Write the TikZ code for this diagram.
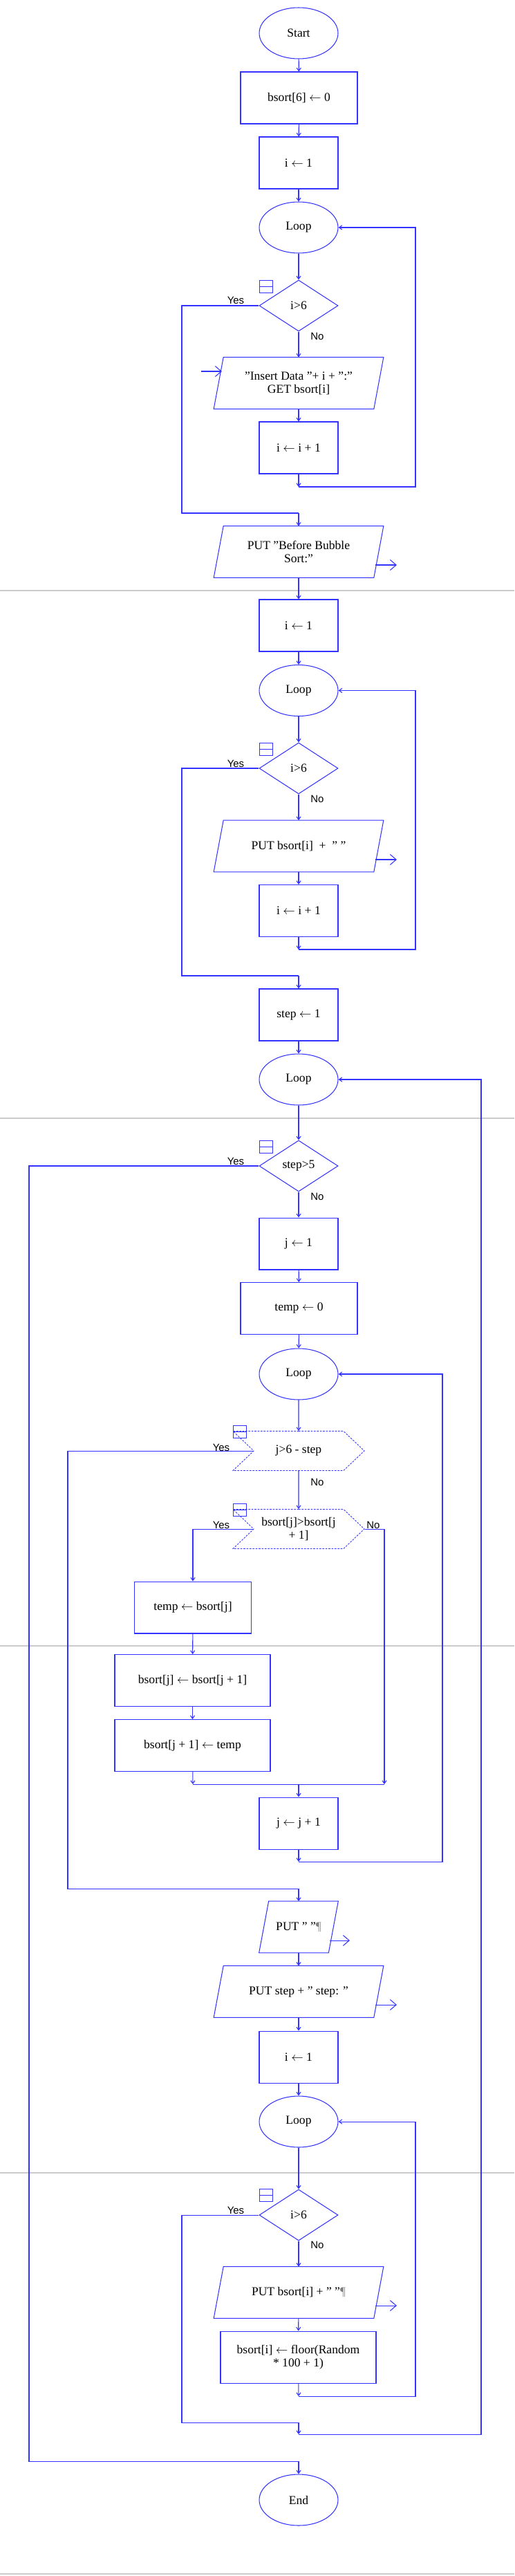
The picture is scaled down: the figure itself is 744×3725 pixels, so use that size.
\documentclass[tikz,border=0pt]{standalone}
\usepackage{fontspec}
\setmainfont{Liberation Serif}
\newfontfamily\lblfont{Liberation Sans}
\usetikzlibrary{shapes.geometric,shapes.symbols,arrows.meta,calc}
\definecolor{fc}{RGB}{51,51,255}
\begin{document}
\begin{tikzpicture}[x=0.02cm,y=-0.02cm,
  every node/.style={font=\fontsize{10}{11}\selectfont,align=center,inner sep=1pt},
  base/.style={draw=fc,line width=0.6pt},
  term/.style={base,ellipse,minimum width=2.28cm,minimum height=1.48cm},
  proc/.style={base,rectangle,minimum width=2.28cm,minimum height=1.5cm},
  wproc/.style={proc,minimum width=3.38cm},
  sproc/.style={proc,minimum width=4.5cm},
  io/.style={rectangle,minimum width=4.9cm,minimum height=1.48cm},
  sio/.style={io,minimum width=2.28cm},
  dec/.style={base,diamond,aspect=1.54,minimum width=2.28cm,minimum height=1.48cm,inner sep=0pt},
  hex/.style={base,signal,signal from=west,signal to=east,signal pointer angle=87,minimum width=3.8cm,minimum height=1.14cm,dash pattern=on 1.5pt off 1pt,line width=0.5pt},
  flow/.style={draw=fc,line width=0.6pt},
  arr/.style={flow,-{Straight Barb[length=2.5pt,width=3.5pt]}},
  ioarr/.style={flow,-{Straight Barb[length=5pt,width=8.5pt]}},
  lbl/.style={font=\lblfont\fontsize{8.5}{9}\selectfont,inner sep=0pt},
  pg/.style={draw=black!20,line width=0.8pt}]
\useasboundingbox (0,0) rectangle (744,3725);
\newcommand\icon[2]{\draw[base,line width=0.5pt] (#1,#2) rectangle ++(19,18) (#1,#2+9) -- ++(19,0);}
\newcommand\para[1]{\draw[base] (#1.south west) -- ($(#1.north west)+(14,0)$) -- (#1.north east) -- ($(#1.south east)-(14,0)$) -- cycle;}

% page break lines
\foreach \yy in {854,1617,2380,3142,3722} \draw[pg] (0,\yy) -- (744,\yy);

% --- section 1: input
\node[term] (start) at (432,48) {Start};
\node[wproc] (b6) at (432.5,141.5) {bsort[6] $\leftarrow$ 0};
\node[proc] (i1) at (432,235.5) {i $\leftarrow$ 1};
\node[term] (loop1) at (432,329) {Loop};
\node[dec] (d1) at (432,442) {i>6};
\node[io] (in1) at (432,554) {"Insert Data "+ i + ":"\\GET bsort[i]};
\node[proc] (inc1) at (432,647.5) {i $\leftarrow$ i + 1};
\node[io] (put1) at (432,798) {PUT "Before Bubble\\Sort:"};
\para{in1} \para{put1}
\icon{375}{405}
\node[lbl] at (341,434) {Yes};
\node[lbl] at (459,486) {No};
\coordinate (c1a) at (432,704);
\coordinate (c1b) at (432,742);
\coordinate (in1a) at (291,537); \coordinate (in1b) at (321,537);
\coordinate (o1a) at (543,817); \coordinate (o1b) at (574,817);
\draw[arr] (start) -- (b6);
\draw[arr] (b6) -- (i1);
\draw[arr] (i1) -- (loop1);
\draw[arr] (loop1) -- (d1);
\draw[arr] (d1) -- (in1);
\draw[arr] (in1) -- (inc1);
\draw[arr] (inc1) -- (c1a);
\draw[arr] (c1a) -- (601,704) -- (601,329) -- (loop1.east);
\draw[flow] (d1.west) -- (263,442) -- (263,742) -- (c1b);
\draw[arr] (c1b) -- (put1);
\draw[ioarr] (in1a) -- (in1b);
\draw[ioarr] (o1a) -- (o1b);

% --- section 2: print before
\node[proc] (i2) at (432,904.5) {i $\leftarrow$ 1};
\node[term] (loop2) at (432,998.5) {Loop};
\node[dec] (d2) at (432,1111) {i>6};
\node[io] (put2) at (432,1223.5) {PUT bsort[i] \ + \ " "};
\node[proc] (inc2) at (432,1317) {i $\leftarrow$ i + 1};
\node[proc] (step1) at (432,1467.5) {step $\leftarrow$ 1};
\node[term] (loop3) at (432,1561) {Loop};
\para{put2}
\icon{375}{1074}
\node[lbl] at (341,1104) {Yes};
\node[lbl] at (459,1155) {No};
\coordinate (c2a) at (432,1373);
\coordinate (c2b) at (432,1411);
\coordinate (o2a) at (543,1243); \coordinate (o2b) at (574,1243);
\draw[arr] (put1) -- (i2);
\draw[arr] (i2) -- (loop2);
\draw[arr] (loop2) -- (d2);
\draw[arr] (d2) -- (put2);
\draw[arr] (put2) -- (inc2);
\draw[arr] (inc2) -- (c2a);
\draw[arr] (c2a) -- (601,1373) -- (601,998.5) -- (loop2.east);
\draw[flow] (d2.west) -- (263,1111) -- (263,1411) -- (c2b);
\draw[arr] (c2b) -- (step1);
\draw[arr] (step1) -- (loop3);
\draw[ioarr] (o2a) -- (o2b);

% --- section 3: bubble sort
\node[dec] (d3) at (432,1686) {step>5};
\node[proc] (j1) at (432,1798.5) {j $\leftarrow$ 1};
\node[wproc] (t0) at (432.5,1892) {temp $\leftarrow$ 0};
\node[term] (loop4) at (432,1987) {Loop};
\node[hex] (h1) at (432,2098) {j>6 - step};
\node[hex] (h2) at (432,2211) {bsort[j]>bsort[j\\+ 1]};
\node[wproc] (ts) at (279,2324.5) {temp $\leftarrow$ bsort[j]};
\node[sproc] (sw1) at (278.5,2430) {bsort[j] $\leftarrow$ bsort[j + 1]};
\node[sproc] (sw2) at (278.5,2524) {bsort[j + 1] $\leftarrow$ temp};
\node[proc] (jinc) at (432,2636.5) {j $\leftarrow$ j + 1};
\icon{375}{1649}
\icon{337}{2061}
\icon{337}{2174}
\node[lbl] at (341,1679) {Yes};
\node[lbl] at (459,1730) {No};
\node[lbl] at (320,2093) {Yes};
\node[lbl] at (459,2143) {No};
\node[lbl] at (320,2205) {Yes};
\node[lbl] at (540,2205) {No};
\coordinate (c3a) at (279,2580);
\coordinate (c3b) at (556,2580);
\coordinate (c3c) at (432,2580);
\coordinate (c3d) at (432,2692);
\draw[arr] (loop3) -- (d3);
\draw[arr] (d3) -- (j1);
\draw[arr] (j1) -- (t0);
\draw[arr] (t0) -- (loop4);
\draw[arr] (loop4) -- (h1);
\draw[arr] (h1) -- (h2);
\draw[arr] (h2.west) -- (279,2211) -- (ts);
\draw[arr] (ts) -- (sw1);
\draw[arr] (sw1) -- (sw2);
\draw[arr] (sw2) -- (c3a);
\draw[arr] (h2.east) -- (556,2211) -- (c3b);
\draw[flow] (c3a) -- (c3b);
\draw[arr] (c3c) -- (jinc);
\draw[arr] (jinc) -- (c3d);
\draw[arr] (c3d) -- (640,2692) -- (640,1987) -- (loop4.east);

% --- section 4: print step
\node[sio] (putsp) at (432,2786.5) {PUT " "{\color{black!50}¶}};
\node[io] (putstep) at (432,2880) {PUT step + " step: "};
\node[proc] (i3) at (432,2974.5) {i $\leftarrow$ 1};
\node[term] (loop5) at (432,3068) {Loop};
\node[dec] (d4) at (432,3203) {i>6};
\node[io] (put3) at (432,3315) {PUT bsort[i] + " "{\color{black!50}¶}};
\node[sproc] (fl) at (431.5,3408.5) {bsort[i] $\leftarrow$ floor(Random\\* 100 + 1)};
\node[term] (end) at (432,3615) {End};
\para{putsp} \para{putstep} \para{put3}
\icon{375}{3165}
\node[lbl] at (341,3196) {Yes};
\node[lbl] at (459,3246) {No};
\coordinate (c4a) at (432,2731);
\coordinate (c4b) at (432,3465);
\coordinate (c4c) at (432,3503);
\coordinate (c4d) at (432,3520);
\coordinate (c4e) at (432,3559);
\coordinate (o3a) at (477,2806); \coordinate (o3b) at (506,2806);
\coordinate (o4a) at (543,2899); \coordinate (o4b) at (574,2899);
\coordinate (o5a) at (543,3334); \coordinate (o5b) at (574,3334);
\draw[flow] (h1.west) -- (98,2098) -- (98,2731) -- (c4a);
\draw[arr] (c4a) -- (putsp);
\draw[arr] (putsp) -- (putstep);
\draw[arr] (putstep) -- (i3);
\draw[arr] (i3) -- (loop5);
\draw[arr] (loop5) -- (d4);
\draw[arr] (d4) -- (put3);
\draw[arr] (put3) -- (fl);
\draw[arr] (fl) -- (c4b);
\draw[arr] (c4b) -- (601,3465) -- (601,3068) -- (loop5.east);
\draw[flow] (d4.west) -- (263,3203) -- (263,3503) -- (c4c);
\draw[arr] (c4c) -- (c4d);
\draw[arr] (c4d) -- (696,3520) -- (696,1561) -- (loop3.east);
\draw[flow] (d3.west) -- (42,1686) -- (42,3559) -- (c4e);
\draw[arr] (c4e) -- (end);
\draw[ioarr] (o3a) -- (o3b);
\draw[ioarr] (o4a) -- (o4b);
\draw[ioarr] (o5a) -- (o5b);
\end{tikzpicture}
\end{document}
